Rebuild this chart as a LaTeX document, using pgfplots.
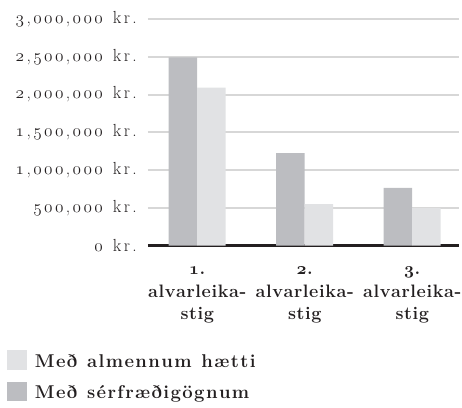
\documentclass[border=0pt]{standalone}
\usepackage{pgfplots}
\pgfplotsset{compat=1.18}
\definecolor{darkbar}{HTML}{BCBDC1}
\definecolor{lightbar}{HTML}{E1E2E4}
\definecolor{gridc}{HTML}{D7D7D7}
\definecolor{txt}{HTML}{231F20}
\makeatletter
\newdimen\lsdim
\protected\def\LS#1#2{\begingroup\lsdim=#1\relax\LS@first#2\LS@end\endgroup}
\def\LS@end{\LS@end}
\def\LS@first#1{\LS@c{#1}\LS@}
\def\LS@#1{\ifx#1\LS@end\else\kern\lsdim\LS@c{#1}\expandafter\LS@\fi}
\def\LS@c#1{\ifx#1~\space\else\LS@d{#1}\fi}
\def\LS@d#1{\ifnum`#1>47 \ifnum`#1<58 {\usefont{OML}{cmm}{\f@series}{it}#1}\else#1\fi\else#1\fi}
\makeatother
\pgfplotsset{sqlegend/.style={legend image code/.code={\fill[##1] (0pt,-8.2pt) rectangle (19.4pt,11.2pt);}}}
\begin{document}
\begin{tikzpicture}
\begin{axis}[
  name=ax,
  scale only axis,
  width=311pt, height=226.8pt,
  xmin=-0.458, xmax=2.435,
  ymin=0, ymax=3000000,
  scaled y ticks=false,
  ybar=0pt, bar width=28.5pt,
  axis x line*=bottom, axis y line*=left,
  y axis line style={draw=none},
  x axis line style={txt, line width=2.5pt},
  major tick length=0pt,
  xtick={0,1,2},
  xticklabels={{\LS{0.6pt}{1.}\\\LS{0.6pt}{alvarleika-}\\\LS{0.6pt}{stig}},
               {\LS{0.6pt}{2.}\\\LS{0.6pt}{alvarleika-}\\\LS{0.6pt}{stig}},
               {\LS{0.6pt}{3.}\\\LS{0.6pt}{alvarleika-}\\\LS{0.6pt}{stig}}},
  xticklabel style={align=center, font=\fontsize{18}{22.7}\selectfont\bfseries, text=txt, anchor=north, inner sep=0pt, yshift=-21pt},
  ytick={0,500000,1000000,1500000,2000000,2500000,3000000},
  yticklabels={{\LS{2.4pt}{0~kr.}},{\LS{2.4pt}{500,000~kr.}},{\LS{2.4pt}{1,000,000~kr.}},{\LS{2.4pt}{1,500,000~kr.}},{\LS{2.4pt}{2,000,000~kr.}},{\LS{2.4pt}{2,500,000~kr.}},{\LS{2.4pt}{3,000,000~kr.}}},
  yticklabel style={font=\fontsize{17.5}{19}\selectfont, text=txt, anchor=east, inner sep=0pt, xshift=-11pt},
  ymajorgrids,
  grid style={gridc, line width=2pt},
  reverse legend,
  legend style={at={(axis description cs:0,0)}, anchor=north west, xshift=-140.7pt, yshift=-104.3pt,
    draw=none, fill=none, inner sep=0pt, row sep=11pt, column sep=6pt,
    font=\fontsize{18.5}{20}\selectfont\bfseries, text=txt},
  legend cell align=left,
]
\addplot[fill=darkbar, draw=none, sqlegend] coordinates {(0,2490000) (1,1225000) (2,765000)};
\addplot[fill=lightbar, draw=none, sqlegend] coordinates {(0,2090000) (1,550000) (2,500000)};
\addlegendentry{\LS{1.4pt}{Með~sérfræðigögnum}}
\addlegendentry{\LS{1.4pt}{Með~almennum~hætti}}
\end{axis}
\pgfresetboundingbox
\useasboundingbox ([xshift=-148pt, yshift=-161.3pt]ax.south west) rectangle ([xshift=314pt, yshift=245.7pt]ax.south west);
\end{tikzpicture}
\end{document}
